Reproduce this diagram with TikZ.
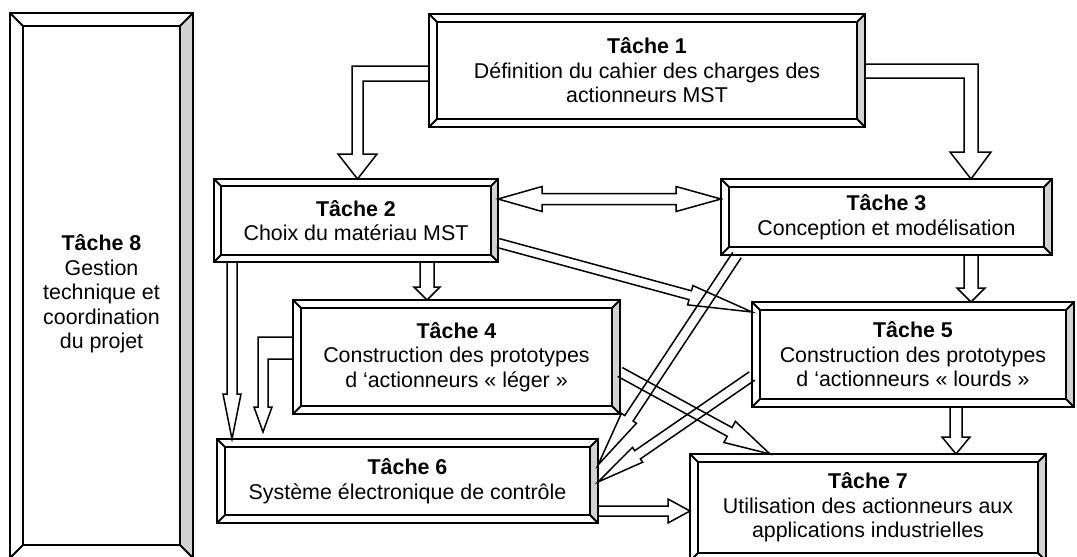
\documentclass[tikz,border=0pt]{standalone}
\usepackage{fontspec}
\setmainfont{Liberation Sans}
\usetikzlibrary{calc}

\newcommand{\tfont}{\fontsize{10.7}{12.3}\selectfont}
% bevelled frame around a task box: #1 node, #2 bevel width
\newcommand{\bevel}[2]{%
  \fill[gray!35] (#1.north east) -- (#1.south east) -- ([shift={(-#2,-#2)}]#1.south east) -- ([shift={(-#2,#2)}]#1.north east) -- cycle;
  \draw[frame] (#1.north west) rectangle (#1.south east);
  \draw[frame] ([shift={(#2,#2)}]#1.north west) rectangle ([shift={(-#2,-#2)}]#1.south east);
  \draw[frame] (#1.north west) -- ++(#2,#2) (#1.north east) -- ++(-#2,#2)
               (#1.south west) -- ++(#2,-#2) (#1.south east) -- ++(-#2,-#2);
}
% hollow block arrow: #1 from, #2 tip, #3 half shaft, #4 head length, #5 half head
\newcommand{\blockarrow}[5]{%
  \draw[arrowline] ($(#1)!#3!90:(#2)$) -- ($(#2)!#4!(#1)!#3!90:(#2)$) -- ($(#2)!#4!(#1)!#5!90:(#2)$)
    -- (#2) -- ($(#2)!#4!(#1)!#5!-90:(#2)$) -- ($(#2)!#4!(#1)!#3!-90:(#2)$) -- ($(#1)!#3!-90:(#2)$);
}

\begin{document}
\begin{tikzpicture}[x=0.5pt, y=-0.5pt,
    tache/.style={draw, line width=0.9pt, inner sep=0pt, outer sep=0pt, align=center, font=\tfont},
    frame/.style={line width=0.9pt},
    arrowline/.style={draw, line width=0.75pt, line join=miter}]
  \useasboundingbox (0,0) rectangle (1077,557);

  % task boxes
  \node[tache, minimum width=218pt, minimum height=56.5pt] (t1) at (647,70.5) {\textbf{Tâche 1}\\Définition du cahier des charges des\\actionneurs MST};
  \node[tache, minimum width=142pt, minimum height=41.5pt] (t2) at (356,220.5) {\textbf{Tâche 2}\\Choix du matériau MST};
  \node[tache, minimum width=165.5pt, minimum height=38pt] (t3) at (886.5,217) {\textbf{Tâche 3}\\Conception et modélisation};
  \node[tache, minimum width=163.5pt, minimum height=57pt] (t4) at (456.5,357) {\textbf{Tâche 4}\\Construction des prototypes\\d ‘actionneurs «~léger~»};
  \node[tache, minimum width=161pt, minimum height=52.5pt] (t5) at (913,354.5) {\textbf{Tâche 5}\\Construction des prototypes\\d ‘actionneurs «~lourds~»};
  \node[tache, minimum width=190.5pt, minimum height=42pt] (t6) at (407.5,481) {\textbf{Tâche 6}\\Système électronique de contrôle};
  \node[tache, minimum width=178pt, minimum height=53.5pt] (t7) at (868,507.5) {\textbf{Tâche 7}\\Utilisation des actionneurs aux\\applications industrielles};
  \node[tache, minimum width=91.5pt, minimum height=272.5pt] (t8) at (101.5,285.5) {};
  \node[font=\tfont, align=center] (t8txt) at (101.5,294) {\textbf{Tâche 8}\\Gestion\\technique et\\coordination\\du projet};

  \bevel{t1}{8} \bevel{t2}{7} \bevel{t3}{8} \bevel{t4}{8}
  \bevel{t5}{8} \bevel{t6}{8} \bevel{t7}{8} \bevel{t8}{13}

  % elbow arrows
  \draw[arrowline] (t1.west |- 0,66) -| (352,154) -- ++(-14,0) -- (t2.north -| 357.5,0) -- (377,154) -- ++(-14,0) |- (t1.west |- 0,81);
  \draw[arrowline] (t1.east |- 0,64) -| (978,152) -- ++(13,0) -- (t3.north -| 971,0) -- (950,152) -- ++(14,0) |- (t1.east |- 0,78);
  \draw[arrowline] (t4.west |- 0,337) -| (258,407) -- ++(-4,0) -- ++(9,25) -- ++(9,-25) -- ++(-4,0) |- (t4.west |- 0,359);

  % double arrow 2 <-> 3
  \draw[arrowline] (t2.east |- 0,199) -- ++(44,-12.5) -- ++(0,7) -- ++(134,0) -- ++(0,-7) -- (t3.west |- 0,199)
    -- ++(-45,12.5) -- ++(0,-7) -- ++(-134,0) -- ++(0,7) -- cycle;

  % straight arrows
  \blockarrow{t2.south -| 427,0}{t4.north -| 427,0}{3.5pt}{6.5pt}{6.5pt}
  \blockarrow{t3.south -| 971,0}{t5.north -| 971,0}{3.5pt}{7pt}{7pt}
  \blockarrow{t5.south -| 956,0}{t7.north -| 956,0}{3pt}{8.5pt}{7pt}
  \blockarrow{t2.south -| 232,0}{t6.north -| 232,0}{2.5pt}{22.5pt}{4.5pt}
  \blockarrow{t6.east |- 0,511}{t7.west |- 0,511}{2.5pt}{11pt}{6pt}
  \blockarrow{t2.east |- 0,243}{t5.west |- 0,312}{2.3pt}{32pt}{5pt}
  \blockarrow{t3.south -| 737,0}{t6.east |- 0,465}{2.5pt}{28pt}{4.5pt}
  \blockarrow{t5.west |- 0,376}{t6.east |- 0,482}{2.5pt}{24pt}{4.5pt}
  \blockarrow{t4.east |- 0,372}{t7.north -| 770,0}{2.5pt}{23pt}{6pt}
\end{tikzpicture}
\end{document}
